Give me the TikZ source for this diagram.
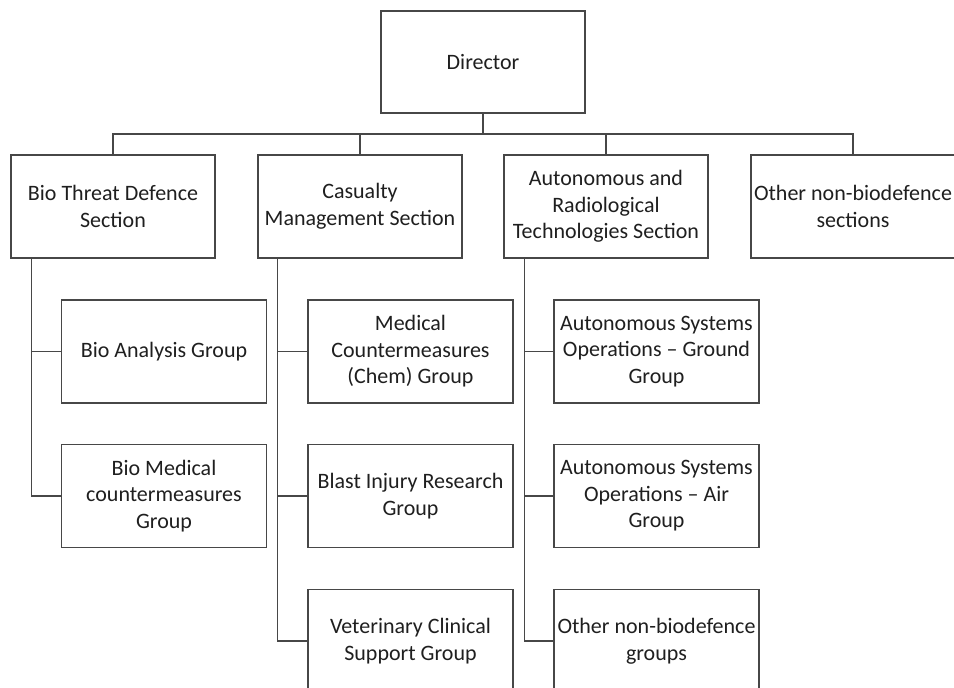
\documentclass[tikz,border=0pt]{standalone}
\usepackage{fontspec}
\setmainfont{Carlito}
\begin{document}
\begin{tikzpicture}[x=1pt,y=-1pt,
  box/.style={draw=black!72, line width=1.3pt, fill=white, align=center, inner sep=1pt,
    minimum width=204pt, minimum height=103pt, text=black!88,
    font=\fontsize{22}{26.5}\selectfont},
  link/.style={draw=black!72, line width=1.3pt}]
\useasboundingbox (0,0) rectangle (954,688);
% top
\node[box, minimum height=102pt] (dir) at (483,62) {Director};
% sections
\node[box] (bt) at (113,206.5) {Bio Threat Defence\\Section};
\node[box] (cm) at (360,206.5) {Casualty\\Management Section};
\node[box] (ar) at (606,206.5) {Autonomous and\\Radiological\\Technologies Section};
\node[box] (os) at (853,206.5) {Other non-biodefence\\sections};
% groups
\node[box, minimum width=205pt] (ba) at (164,351.5) {Bio Analysis Group};
\node[box, minimum width=205pt] (bmc) at (164,496) {Bio Medical\\countermeasures\\Group};
\node[box, minimum width=205pt] (mcc) at (410.5,351.5) {Medical\\Countermeasures\\(Chem) Group};
\node[box, minimum width=205pt] (bir) at (410.5,496) {Blast Injury Research\\Group};
\node[box, minimum width=205pt] (vcs) at (410.5,641) {Veterinary Clinical\\Support Group};
\node[box, minimum width=205pt] (asg) at (656.5,351.5) {Autonomous Systems\\Operations -- Ground\\Group};
\node[box, minimum width=205pt] (asa) at (656.5,496) {Autonomous Systems\\Operations -- Air\\Group};
\node[box, minimum width=205pt] (ong) at (656.5,641) {Other non-biodefence\\groups};
% bus
\coordinate (bus) at (483,134);
\draw[link] (dir.south) -- (bus);
\draw[link] (bt.north) |- (bus) -| (os.north);
\draw[link] (cm.north) -- (cm.north |- bus);
\draw[link] (ar.north) -- (ar.north |- bus);
% section spines
\coordinate (btl) at ([xshift=21pt]bt.south west);
\coordinate (cml) at ([xshift=20pt]cm.south west);
\coordinate (arl) at ([xshift=21pt]ar.south west);
\draw[link] (btl) |- (bmc.west);
\draw[link] (ba.west) -- (ba.west -| btl);
\draw[link] (cml) |- (vcs.west);
\draw[link] (mcc.west) -- (mcc.west -| cml);
\draw[link] (bir.west) -- (bir.west -| cml);
\draw[link] (arl) |- (ong.west);
\draw[link] (asg.west) -- (asg.west -| arl);
\draw[link] (asa.west) -- (asa.west -| arl);
\end{tikzpicture}
\end{document}
